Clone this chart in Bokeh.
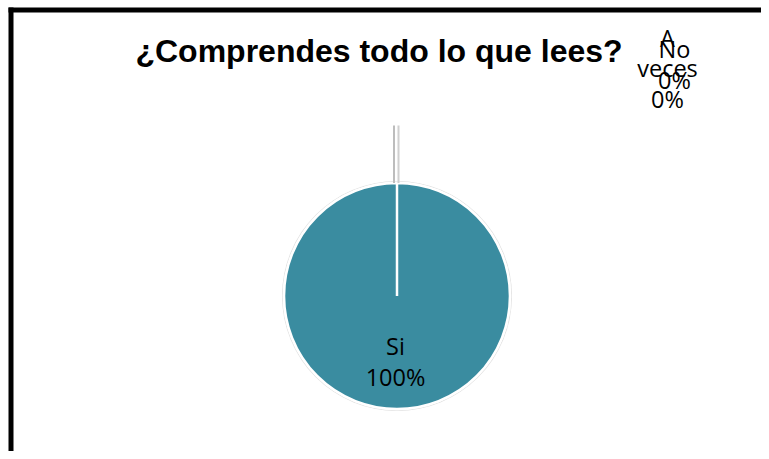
import numpy as np
from bokeh.plotting import figure
from bokeh.models import Range1d, ColumnDataSource
from bokeh.core.properties import value
from bokeh.embed import file_html
from bokeh.resources import INLINE

# ---- data ----
title_text = "¿Comprendes todo lo que lees?"
categories = ["Si", "No", "A veces"]
percent = [100, 0, 0]
slice_colors = ["#3A8CA0", "#3A8CA0", "#3A8CA0"]

# ---- layout ----
W, H = 761, 451
p = figure(width=W, height=H, x_range=Range1d(0, W), y_range=Range1d(0, H),
           output_backend="svg", toolbar_location=None, min_border=0)
p.axis.visible = False
p.grid.visible = False
p.outline_line_color = None
p.background_fill_color = "white"
p.border_fill_color = "white"

cx, cy, r = 396.5, 155.5, 113
text_shift = 9  # vertical correction of text baselines

vals = np.array(percent, dtype=float)
fracs = vals / vals.sum()
ends = np.cumsum(fracs)
starts = ends - fracs
start_angle = np.pi / 2 - 2 * np.pi * starts
end_angle = np.pi / 2 - 2 * np.pi * ends
mid_angle = (start_angle + end_angle) / 2

# chart-area border (top and left visible)
p.segment(x0=[8], y0=[441.5], x1=[W], y1=[441.5], line_color="black", line_width=5, line_cap="butt")
p.segment(x0=[10.5], y0=[0], x1=[10.5], y1=[444], line_color="black", line_width=5, line_cap="butt")

# subtle shadow
p.circle(x=[cx], y=[cy], radius=r + 2, fill_color="#d4d4d4", fill_alpha=0.7, line_color=None)

src = ColumnDataSource(dict(x=[cx] * len(categories), y=[cy] * len(categories),
                            start=list(start_angle), end=list(end_angle),
                            color=slice_colors, cat=categories))
p.wedge(x="x", y="y", radius=r, start_angle="start", end_angle="end",
        direction="clock", fill_color="color", line_color="white", line_width=2.5,
        source=src)

# leader lines for slices whose label sits outside (zero slices)
leader_len = 57.5
offsets = {"No": 1.5, "A veces": -3.0}
leader_colors = {"No": "#d0d0d0", "A veces": "#bdbdbd"}
for i, c in enumerate(categories):
    if fracs[i] == 0:
        a = mid_angle[i]
        x0 = cx + r * np.cos(a) + offsets[c]
        y0 = cy + r * np.sin(a)
        x1 = cx + (r + leader_len) * np.cos(a) + offsets[c]
        y1 = cy + (r + leader_len) * np.sin(a)
        p.segment(x0=[x0], y0=[y0], x1=[x1], y1=[y1],
                  line_color=leader_colors[c], line_width=2)

# data labels
outside_pos = {"No": (674, 378), "A veces": (667, 374.5)}
ls = 30.5
lx, ly, lt = [], [], []
for i, c in enumerate(categories):
    lines = c.split(" ") + [f"{percent[i]:.0f}%"]
    if fracs[i] > 0:
        ax = cx + 0.66 * r * np.cos(mid_angle[i]) - 1.5
        ay = cy + 0.66 * r * np.sin(mid_angle[i])
    else:
        ax, ay = outside_pos[c]
    n = len(lines)
    for k, t in enumerate(lines):
        lx.append(ax)
        ly.append(ay + (n - 1) / 2 * ls - k * ls + text_shift)
        lt.append(t)
p.text(x=lx, y=ly, text=lt, text_font=value("Open Sans"), text_font_size="23.5px",
       text_align="center", text_baseline="alphabetic", text_color="black")

# title
p.text(x=[378.5], y=[392 + text_shift], text=[title_text], text_font=value("Liberation Sans"),
       text_font_size="32px", text_font_style="bold", text_align="center",
       text_baseline="alphabetic", text_color="black")

open("out.html", "w").write(file_html(p, INLINE))
